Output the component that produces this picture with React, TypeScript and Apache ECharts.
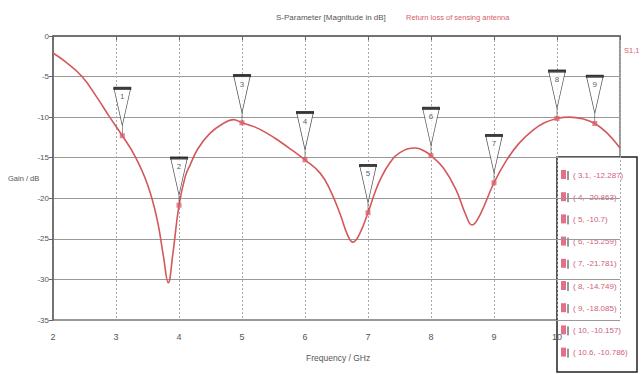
import React, { useEffect, useRef } from "react";
import * as echarts from "echarts";

const freq = [2.0, 2.2, 2.46, 2.7, 2.9, 3.1, 3.3, 3.5, 3.65, 3.75, 3.83, 3.9, 4.0, 4.1, 4.17, 4.3, 4.49, 4.7, 4.86, 5.0, 5.2, 5.4, 5.6, 5.8, 6.0, 6.24, 6.4, 6.56, 6.68, 6.76, 6.86, 7.0, 7.1, 7.2, 7.35, 7.5, 7.75, 7.9, 8.0, 8.2, 8.4, 8.55, 8.65, 8.78, 9.0, 9.2, 9.4, 9.62, 9.8, 10.0, 10.2, 10.4, 10.6, 10.8, 11.0];
const s11 = [-2.1, -3.2, -5.0, -7.6, -10.0, -12.287, -14.8, -18.3, -22.5, -27.0, -30.4, -27.0, -20.863, -17.3, -16.0, -13.9, -12.0, -10.8, -10.3, -10.7, -11.2, -12.0, -13.0, -14.1, -15.259, -16.9, -19.0, -22.0, -24.6, -25.4, -24.5, -21.781, -19.5, -17.6, -15.6, -14.4, -13.8, -14.2, -14.749, -16.3, -19.0, -22.0, -23.3, -22.0, -18.085, -15.3, -13.2, -11.6, -10.7, -10.157, -10.0, -10.2, -10.786, -12.0, -13.8];

const markerFreq = [3.1, 4, 5, 6, 7, 8, 9, 10, 10.6];
const markerVal = [-12.287, -20.863, -10.7, -15.259, -21.781, -14.749, -18.085, -10.157, -10.786];
const markerNames = ["1", "2", "3", "4", "5", "6", "7", "8", "9"];

const titleText = "S-Parameter [Magnitude in dB]";
const subtitleText = "Return loss of sensing antenna";
const seriesName = "S1,1";
const xName = "Frequency / GHz";
const yName = "Gain / dB";

const FONT = "'Liberation Sans', Arial, sans-serif";

export default function App() {
  const ref = useRef<HTMLDivElement>(null);
  useEffect(() => {
    if (!ref.current) return;
    const chart = echarts.init(ref.current, null, { renderer: "svg" });
    const curve = freq.map((f, i) => [f, s11[i]]);
    const markers = markerFreq.map((f, i) => [f, markerVal[i]]);
    const legendItems: any[] = [];
    markerFreq.forEach((f, i) => {
      const y = 175 + 22.2 * i;
      legendItems.push({
        type: "rect",
        shape: { x: 561, y: y - 5, width: 5, height: 9 },
        style: { fill: "#e2708a" },
      });
      legendItems.push({
        type: "line",
        shape: { x1: 568, y1: y - 4, x2: 568, y2: y + 5 },
        style: { stroke: "#333", lineWidth: 1 },
      });
      legendItems.push({
        type: "text",
        x: 573,
        y,
        style: {
          text: `( ${f}, ${markerVal[i]})`,
          font: `8px ${FONT}`,
          fill: "#d0607a",
          verticalAlign: "middle",
          align: "left",
        },
      });
    });
    chart.setOption({
      animation: false,
      grid: {
        left: 53,
        right: 22,
        top: 36,
        bottom: 54,
        show: true,
        borderColor: "#777",
        borderWidth: 1.5,
      },
      xAxis: {
        type: "value",
        min: 2,
        max: 11,
        interval: 1,
        axisLine: { show: true, lineStyle: { color: "#666", width: 1.5 } },
        axisTick: { show: true, length: 4, lineStyle: { color: "#666" } },
        axisLabel: {
          margin: 12,
          fontSize: 9,
          fontFamily: FONT,
          color: "#555",
          formatter: (v: number) => (v === 11 ? "" : String(v)),
        },
        splitLine: { show: true, lineStyle: { color: "#aaa", type: [2, 2] } },
      },
      yAxis: {
        type: "value",
        min: -35,
        max: 0,
        interval: 5,
        axisLine: { show: true, lineStyle: { color: "#666", width: 1.5 } },
        axisTick: { show: true, length: 4, lineStyle: { color: "#666" } },
        axisLabel: { margin: 4, fontSize: 8, fontFamily: FONT, color: "#555" },
        splitLine: { show: true, lineStyle: { color: "#999", width: 1 } },
      },
      series: [
        {
          name: seriesName,
          type: "line",
          data: curve,
          smooth: 0.45,
          showSymbol: false,
          lineStyle: { color: "#d4585a", width: 1.6 },
          z: 2,
        },
        {
          type: "scatter",
          data: markers,
          symbol: "path://M0,0L17,0L8.5,38Z M8.5,38L8.5,48",
          symbolSize: [17, 48],
          symbolOffset: [0, -24],
          itemStyle: { color: "#fff", borderColor: "#222", borderWidth: 1 },
          z: 3,
        },
        {
          type: "scatter",
          data: markers,
          symbol: "rect",
          symbolSize: [18, 2.5],
          symbolOffset: [0, -47],
          itemStyle: { color: "#222" },
          label: {
            show: true,
            position: "bottom",
            distance: 3,
            formatter: (p: any) => markerNames[p.dataIndex],
            fontSize: 8,
            fontFamily: FONT,
            color: "#333",
          },
          z: 4,
        },
        {
          type: "scatter",
          data: markers,
          symbol: "rect",
          symbolSize: 5,
          itemStyle: { color: "#e06070" },
          z: 5,
        },
      ],
      graphic: [
        {
          type: "text",
          left: 276,
          top: 13,
          style: { text: titleText, font: `8px ${FONT}`, fill: "#555" },
        },
        {
          type: "text",
          left: 406,
          top: 13,
          style: { text: subtitleText, font: `7.5px ${FONT}`, fill: "#d8606a" },
        },
        {
          type: "text",
          left: 624,
          top: 46,
          style: { text: seriesName, font: `7.5px ${FONT}`, fill: "#d8606a" },
        },
        {
          type: "text",
          left: 306,
          top: 353,
          style: { text: xName, font: `8.5px ${FONT}`, fill: "#555" },
        },
        {
          type: "text",
          left: 8,
          top: 174,
          style: { text: yName, font: `7.5px ${FONT}`, fill: "#555" },
        },
        {
          type: "group",
          z: 100,
          children: [
            {
              type: "rect",
              shape: { x: 557, y: 157, width: 80, height: 215 },
              style: { fill: "#fff", stroke: "#222", lineWidth: 1.5 },
            },
            ...legendItems,
          ],
        },
      ],
    });
    return () => chart.dispose();
  }, []);
  return (
    <div
      ref={ref}
      style={{ position: "fixed", left: 0, top: 0, width: 642, height: 374, background: "#fff" }}
    />
  );
}
